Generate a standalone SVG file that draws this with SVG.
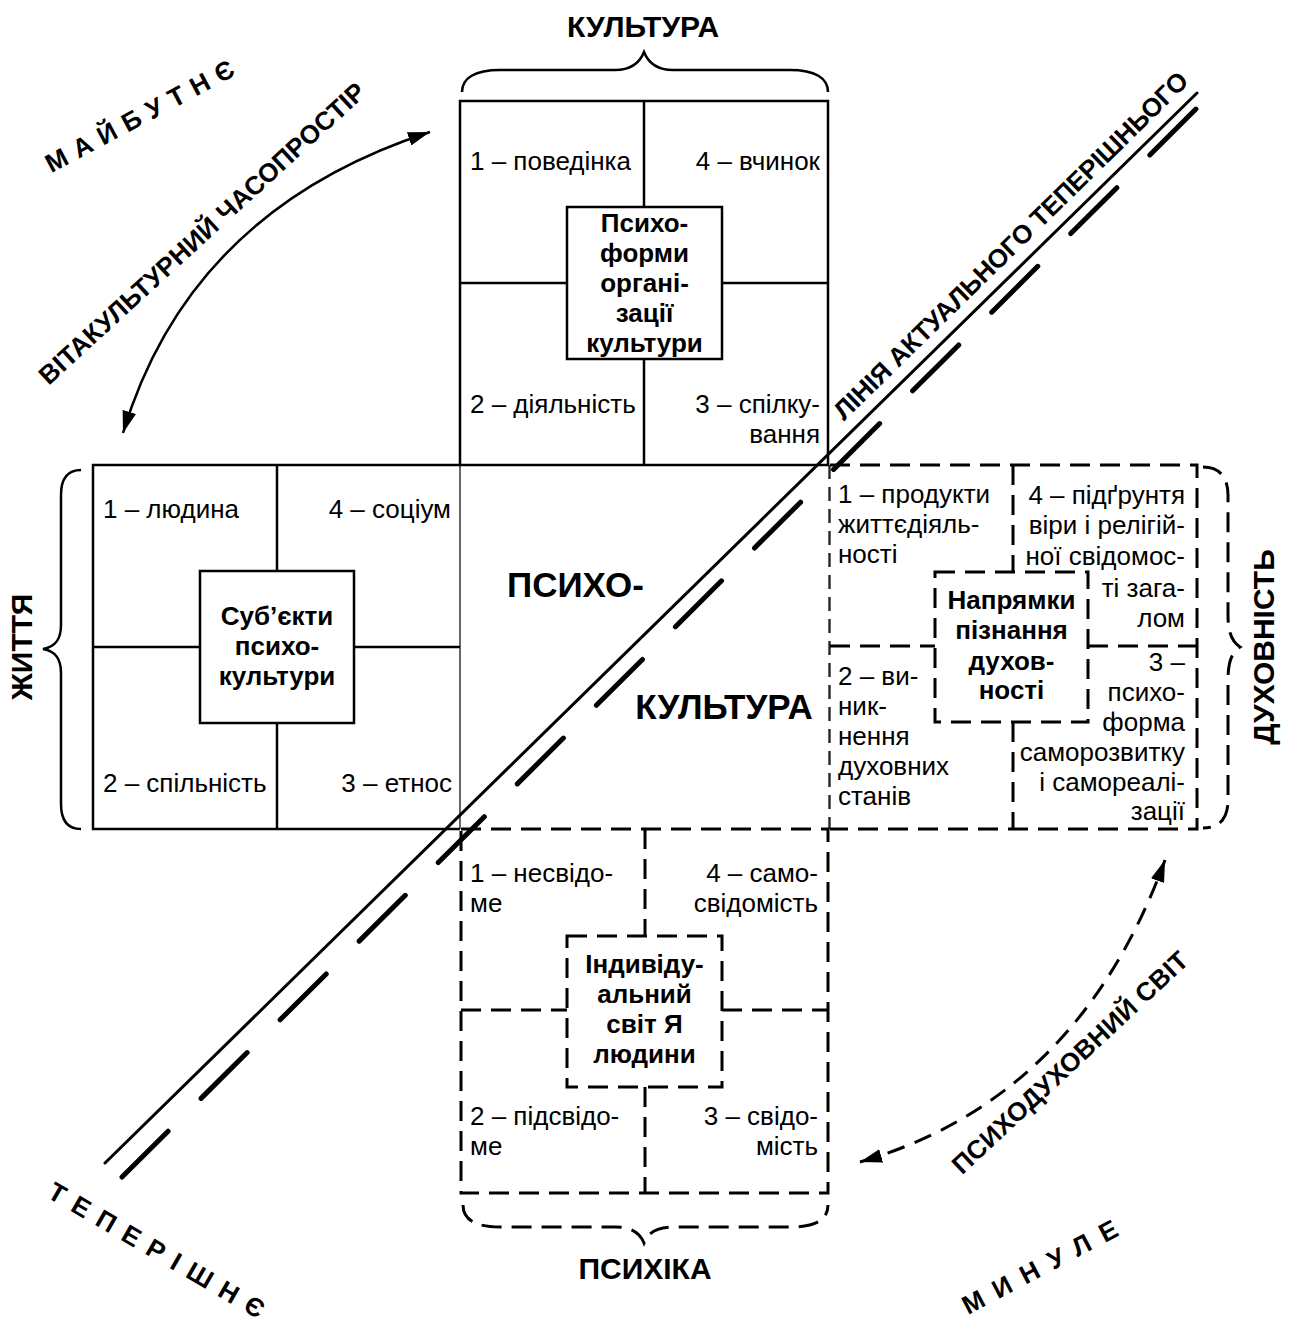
<svg xmlns="http://www.w3.org/2000/svg" width="1292" height="1327" viewBox="0 0 1292 1327">
<style>
.t{font-family:"Liberation Sans",Arial,sans-serif;font-size:26px;fill:#000}
.b{font-weight:bold}
.r{text-anchor:end}
.m{text-anchor:middle}
.big{font-size:30px;font-weight:bold}
.huge{font-size:35px;font-weight:bold}
.box{fill:#fff;stroke:#000;stroke-width:2.5}
.ln{fill:none;stroke:#000;stroke-width:2.5}
.thin{fill:none;stroke:#000;stroke-width:1.2}
.thind{fill:none;stroke:#000;stroke-width:1.2;stroke-dasharray:14 8}
.dl{fill:none;stroke:#000;stroke-width:3;stroke-dasharray:20 10}
.dbox{fill:#fff;stroke:#000;stroke-width:3;stroke-dasharray:20 10}
</style>
<defs>
<marker id="ah" viewBox="0 0 22 14" refX="22" refY="7" markerWidth="22" markerHeight="14" markerUnits="userSpaceOnUse" orient="auto-start-reverse">
<path d="M0,0 L22,7 L0,14 z" fill="#000"/>
</marker>
</defs>
<rect width="1292" height="1327" fill="#fff"/>

<g id="culture-node">
<rect class="box" x="460" y="101" width="368" height="364" fill="none"/>
<path class="ln" d="M644,101 V207 M644,359 V465 M460,283 H567 M722,283 H828"/>
<rect class="box" x="567" y="207" width="155" height="152"/>
<text class="t" x="470" y="170">1 – поведінка</text>
<text class="t r" x="820" y="170">4 – вчинок</text>
<text class="t" x="470" y="413">2 – діяльність</text>
<text class="t r" x="820" y="413">3 – спілку-</text>
<text class="t r" x="820" y="443">вання</text>
<text class="t b m" x="644.5"><tspan x="644.5" y="232">Психо-</tspan><tspan x="644.5" y="262">форми</tspan><tspan x="644.5" y="292">органі-</tspan><tspan x="644.5" y="322">зації</tspan><tspan x="644.5" y="352">культури</tspan></text>
<path class="ln" d="M462,92 C462,78 475,70 500,70 H615 C632,70 640,62 644,52 C648,62 656,70 673,70 H790 C815,70 828,78 828,92"/>
<text class="t big m" font-size="32" x="643" y="37">КУЛЬТУРА</text>
</g>

<g id="life-node">
<path class="ln" d="M460,465 H93 V829 H460"/>
<path class="thin" d="M460,465 V829"/>
<path class="ln" d="M277,465 V571 M277,723 V829 M93,647 H200 M354,647 H460"/>
<rect class="box" x="200" y="571" width="154" height="152"/>
<text class="t" x="103" y="518">1 – людина</text>
<text class="t r" x="451" y="518">4 – соціум</text>
<text class="t" x="103" y="792">2 – спільність</text>
<text class="t r" x="452" y="792">3 – етнос</text>
<text class="t b m" x="277"><tspan x="277" y="625">Суб’єкти</tspan><tspan x="277" y="655">психо-</tspan><tspan x="277" y="685">культури</tspan></text>
<path class="ln" d="M81,470 C68,470 61,478 61,495 V625 C61,640 55,647 43,649 C55,651 61,658 61,673 V804 C61,821 68,829 81,829"/>
<text class="t big m" transform="translate(32,647) rotate(-90)">ЖИТТЯ</text>
</g>

<g id="psychoculture-node">
<path class="thind" d="M829,465 V829"/>
<text class="t huge m" x="575.5" y="597">ПСИХО-</text>
<text class="t huge m" x="724" y="719">КУЛЬТУРА</text>
</g>

<g id="spirituality-node">
<path class="dl" d="M830,465 H1197 V829 H830"/>
<path class="thind" d="M830,465 V829"/>
<path class="dl" d="M1013,465 V572 M1013,722 V829 M830,646 H935 M1088,646 H1197"/>
<rect class="dbox" x="935" y="572" width="153" height="150"/>
<text class="t"><tspan x="838" y="503">1 – продукти</tspan><tspan x="838" y="533">життєдіяль-</tspan><tspan x="838" y="563">ності</tspan></text>
<text class="t r"><tspan x="1185" y="504">4 – підґрунтя</tspan><tspan x="1185" y="534">віри і релігій-</tspan><tspan x="1185" y="565">ної свідомос-</tspan><tspan x="1185" y="597">ті зага-</tspan><tspan x="1185" y="627">лом</tspan></text>
<text class="t"><tspan x="838" y="685">2 – ви-</tspan><tspan x="838" y="715">ник-</tspan><tspan x="838" y="745">нення</tspan><tspan x="838" y="775">духовних</tspan><tspan x="838" y="805">станів</tspan></text>
<text class="t r"><tspan x="1185" y="671">3 –</tspan><tspan x="1185" y="701">психо-</tspan><tspan x="1185" y="731">форма</tspan><tspan x="1185" y="761">саморозвитку</tspan><tspan x="1185" y="791">і самореалі-</tspan><tspan x="1185" y="820">зації</tspan></text>
<text class="t b m"><tspan x="1011.5" y="609">Напрямки</tspan><tspan x="1011.5" y="639">пізнання</tspan><tspan x="1011.5" y="670">духов-</tspan><tspan x="1011.5" y="699">ності</tspan></text>
<path class="dl" stroke-width="2.5" stroke-dasharray="15 10" d="M1203,467 C1220,467 1228,478 1228,495 V615 C1228,632 1232,642 1240,647 C1232,652 1228,662 1228,679 V800 C1228,818 1220,828 1203,828"/>
<text class="t big m" transform="translate(1274,647) rotate(-90)">ДУХОВНІСТЬ</text>
</g>

<g id="psyche-node">
<rect class="dbox" x="461" y="829" width="367" height="364" fill="none"/>
<path class="dl" d="M645,829 V936 M645,1087 V1193 M461,1010 H567 M722,1010 H828"/>
<rect class="dbox" x="567" y="936" width="155" height="151"/>
<text class="t"><tspan x="470" y="882">1 – несвідо-</tspan><tspan x="470" y="912">ме</tspan></text>
<text class="t r"><tspan x="818" y="882">4 – само-</tspan><tspan x="818" y="912">свідомість</tspan></text>
<text class="t"><tspan x="470" y="1125">2 – підсвідо-</tspan><tspan x="470" y="1155">ме</tspan></text>
<text class="t r"><tspan x="818" y="1125">3 – свідо-</tspan><tspan x="818" y="1155">мість</tspan></text>
<text class="t b m"><tspan x="644.5" y="973">Індивіду-</tspan><tspan x="644.5" y="1003">альний</tspan><tspan x="644.5" y="1033">світ Я</tspan><tspan x="644.5" y="1063">людини</tspan></text>
<path class="dl" stroke-width="2.5" stroke-dasharray="15 10" d="M463,1205 C463,1220 476,1227 500,1227 H615 C632,1227 640,1233 644,1243 C648,1233 656,1227 673,1227 H790 C815,1227 828,1220 828,1205"/>
<text class="t big m" font-size="31" x="645" y="1279">ПСИХІКА</text>
</g>

<g id="connectors">
<path d="M105,1163 L1197,93" fill="none" stroke="#000" stroke-width="3" stroke-linecap="round"/>
<path d="M122,1177 L1198,107" fill="none" stroke="#000" stroke-width="5" stroke-linecap="round" stroke-dasharray="65 46.5"/>
<path d="M123,433 Q190,210 430,132" fill="none" stroke="#000" stroke-width="2.5" marker-start="url(#ah)" marker-end="url(#ah)"/>
<path d="M860,1162 Q1078,1099 1165,860" fill="none" stroke="#000" stroke-width="3" stroke-dasharray="18 11" marker-start="url(#ah)" marker-end="url(#ah)"/>
</g>

<g id="labels">
<text class="t b m" font-size="27" transform="translate(1017,252) rotate(-44.4)" textLength="484" lengthAdjust="spacing">ЛІНІЯ АКТУАЛЬНОГО ТЕПЕРІШНЬОГО</text>
<text class="t b m" font-size="25" transform="translate(208,240) rotate(-42.5)" textLength="432" lengthAdjust="spacing">ВІТАКУЛЬТУРНИЙ ЧАСОПРОСТІР</text>
<text class="t b m" font-size="25" transform="translate(1076,1069) rotate(-43)" textLength="312" lengthAdjust="spacing">ПСИХОДУХОВНИЙ СВІТ</text>
<text class="t b m" font-size="25" transform="translate(144,124) rotate(-28)" textLength="210" lengthAdjust="spacing">МАЙБУТНЄ</text>
<text class="t b m" font-size="24" transform="translate(152,1258) rotate(30)" textLength="245" lengthAdjust="spacing">ТЕПЕРІШНЄ</text>
<text class="t b m" font-size="25" transform="translate(1044,1275) rotate(-27.8)" textLength="172" lengthAdjust="spacing">МИНУЛЕ</text>
</g>
</svg>
